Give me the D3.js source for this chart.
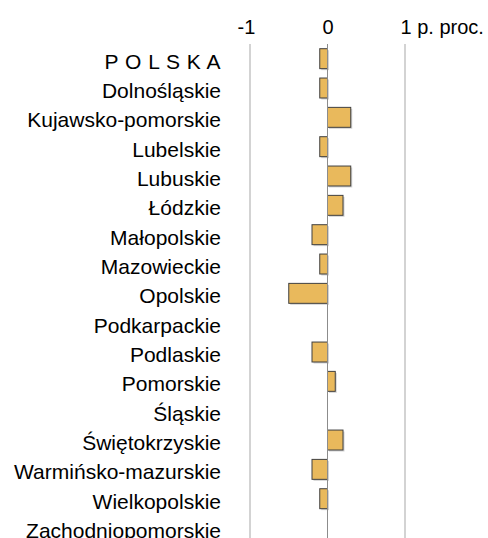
<!DOCTYPE html>
<html>
<head>
<meta charset="utf-8">
<script src="https://cdn.jsdelivr.net/npm/d3@7"></script>
<style>
  body { margin: 0; background: #fff; }
  svg { display: block; font-family: "Liberation Sans", Arial, sans-serif; }
</style>
</head>
<body>
<div id="chart"></div>
<script>
const REGIONS = [
  "P O L S K A", "Dolnośląskie", "Kujawsko-pomorskie", "Lubelskie", "Lubuskie",
  "Łódzkie", "Małopolskie", "Mazowieckie", "Opolskie", "Podkarpackie",
  "Podlaskie", "Pomorskie", "Śląskie", "Świętokrzyskie", "Warmińsko-mazurskie",
  "Wielkopolskie", "Zachodniopomorskie"
];
const CHANGE = [-0.1, -0.1, 0.3, -0.1, 0.3, 0.2, -0.2, -0.1, -0.5, 0, -0.2, 0.1, 0, 0.2, -0.2, -0.1, 0];
const TICKS = [-1, 0, 1];
const UNIT = " p. proc.";

const W = 488, H = 538;
const data = REGIONS.map((r, i) => ({ region: r, value: CHANGE[i] }));

const svg = d3.select("#chart").append("svg")
  .attr("width", W)
  .attr("height", H);

// scales
const x = d3.scaleLinear().domain([-1, 1]).range([250, 405]);
const y = d3.scaleBand()
  .domain(REGIONS)
  .range([44, 542.7])
  .paddingInner(0.32)
  .paddingOuter(0.16);

// gridlines
svg.append("g").selectAll("line")
  .data(TICKS.filter(t => t !== 0))
  .enter().append("line")
  .attr("x1", d => x(d)).attr("x2", d => x(d))
  .attr("y1", 44).attr("y2", H)
  .attr("stroke", "#c4c4c4")
  .attr("stroke-width", 1.5);

// top axis labels
const axis = svg.append("g")
  .attr("transform", "translate(0,34)")
  .call(d3.axisTop(x).tickValues(TICKS).tickSize(0).tickPadding(0)
    .tickFormat(d => d === 1 ? d + UNIT : (d < 0 ? "-" + Math.abs(d) : d)));
axis.select(".domain").remove();
axis.selectAll("text")
  .attr("fill", "#000")
  .style("font-size", "20px")
  .attr("dy", 0);
axis.selectAll(".tick").filter(d => d === 1).select("text")
  .attr("text-anchor", "start")
  .attr("dx", -5);
axis.selectAll(".tick").filter(d => d === -1).select("text")
  .attr("dx", -4);

// bars (shadow + bar)
const bars = svg.append("g");
bars.selectAll("rect.shadow")
  .data(data.filter(d => d.value !== 0))
  .enter().append("rect")
  .attr("class", "shadow")
  .attr("x", d => x(Math.min(0, d.value)) + 1.5)
  .attr("y", d => y(d.region) + 1.5)
  .attr("width", d => Math.abs(x(d.value) - x(0)))
  .attr("height", y.bandwidth())
  .attr("fill", "#b5b5b5")
  .attr("opacity", 0.6);

bars.selectAll("rect.bar")
  .data(data.filter(d => d.value !== 0))
  .enter().append("rect")
  .attr("class", "bar")
  .attr("x", d => x(Math.min(0, d.value)))
  .attr("y", d => y(d.region))
  .attr("width", d => Math.abs(x(d.value) - x(0)))
  .attr("height", y.bandwidth())
  .attr("fill", "#e9b95c")
  .attr("stroke", "#404040")
  .attr("stroke-width", 1);

// zero line
svg.append("line")
  .attr("x1", x(0)).attr("x2", x(0))
  .attr("y1", 44).attr("y2", H)
  .attr("stroke", "#8c8c8c")
  .attr("stroke-width", 1);

// category labels
svg.append("g").selectAll("text")
  .data(data)
  .enter().append("text")
  .attr("x", 221)
  .attr("y", d => y(d.region) + y.bandwidth())
  .attr("text-anchor", "end")
  .style("font-size", "21px")
  .style("letter-spacing", d => d.region === "P O L S K A" ? "0.5px" : null)
  .attr("fill", "#000")
  .text(d => d.region);
</script>
</body>
</html>
